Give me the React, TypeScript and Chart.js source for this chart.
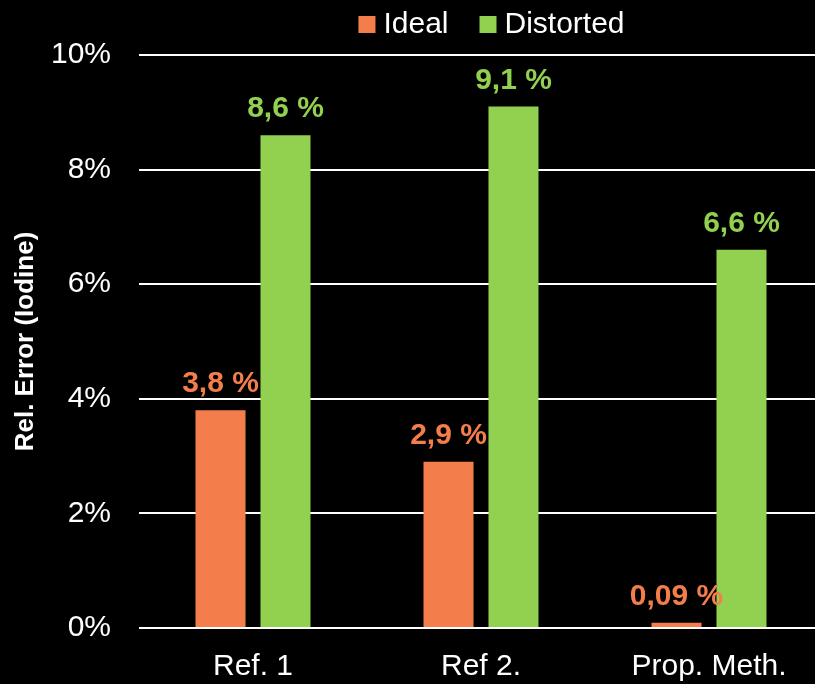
import React, { useEffect, useRef } from "react";
import { Chart, registerables } from "chart.js";

Chart.register(...registerables);

const categories = ["Ref. 1", "Ref 2.", "Prop. Meth."];
const idealValues = [3.8, 2.9, 0.09];
const distortedValues = [8.6, 9.1, 6.6];
const yTicks = [0, 2, 4, 6, 8, 10];
const seriesNames = ["Ideal", "Distorted"];

const ORANGE = "#F47E4B";
const GREEN = "#92D050";
const FONT = '"Liberation Sans", Arial, sans-serif';

const fmt = (v: number) => String(v).replace(".", ",") + " %";

const labelsPlugin = {
  id: "valueLabels",
  afterDatasetsDraw(chart: any) {
    const ctx = chart.ctx;
    ctx.save();
    ctx.font = `bold 30px ${FONT}`;
    ctx.textAlign = "center";
    ctx.textBaseline = "alphabetic";
    chart.data.datasets.forEach((ds: any, i: number) => {
      const meta = chart.getDatasetMeta(i);
      meta.data.forEach((el: any, j: number) => {
        ctx.fillStyle = ds.backgroundColor;
        ctx.fillText(fmt(ds.data[j]), el.x, el.y - 18);
      });
    });
    ctx.restore();
  },
};

const legendPlugin = {
  id: "customLegend",
  afterDraw(chart: any) {
    const ctx = chart.ctx;
    ctx.save();
    ctx.font = `30px ${FONT}`;
    ctx.textBaseline = "alphabetic";
    ctx.textAlign = "left";
    const box = 17;
    const gap = 8;
    const itemGap = 31;
    const items = chart.data.datasets.map((ds: any) => ({
      label: ds.label,
      color: ds.backgroundColor,
      w: box + gap + ctx.measureText(ds.label).width,
    }));
    const total = items.reduce((s: number, it: any) => s + it.w, 0) + itemGap * (items.length - 1);
    let x = 491.5 - total / 2;
    const baseline = 33;
    items.forEach((it: any) => {
      ctx.fillStyle = it.color;
      ctx.fillRect(x, 16, box, box);
      ctx.fillStyle = "#FFFFFF";
      ctx.fillText(it.label, x + box + gap, baseline);
      x += it.w + itemGap;
    });
    ctx.restore();
  },
};

export default function App() {
  const ref = useRef<HTMLCanvasElement | null>(null);

  useEffect(() => {
    document.body.style.margin = "0";
    document.body.style.background = "#000";
    const canvas = ref.current!;
    const chart = new Chart(canvas, {
      type: "bar",
      data: {
        labels: categories,
        datasets: [
          {
            label: seriesNames[0],
            data: idealValues,
            backgroundColor: ORANGE,
            categoryPercentage: 0.57,
            barPercentage: 0.77,
          },
          {
            label: seriesNames[1],
            data: distortedValues,
            backgroundColor: GREEN,
            categoryPercentage: 0.57,
            barPercentage: 0.77,
          },
        ],
      },
      options: {
        responsive: false,
        animation: false,
        devicePixelRatio: 1,
        layout: { padding: { top: 55, left: 0, right: 0, bottom: 0 } },
        plugins: {
          legend: { display: false },
          tooltip: { enabled: false },
        },
        scales: {
          x: {
            grid: { display: false },
            border: { display: false },
            ticks: {
              color: "#FFFFFF",
              font: { family: FONT, size: 30 },
              padding: 13,
              maxRotation: 0,
            },
            afterFit: (s: any) => {
              s.height = 56;
            },
          },
          y: {
            min: 0,
            max: 10,
            afterBuildTicks: (s: any) => {
              s.ticks = yTicks.map((v) => ({ value: v }));
            },
            grid: { color: "#FFFFFF", lineWidth: 2, drawTicks: false },
            border: { display: false },
            ticks: {
              color: "#FFFFFF",
              font: { family: FONT, size: 30 },
              padding: 28,
              callback: (v: any) => v + "%",
            },
            title: {
              display: true,
              text: "Rel. Error (Iodine)",
              color: "#FFFFFF",
              font: { family: FONT, size: 26, weight: "bold" },
              padding: { top: 10, bottom: 0 },
            },
            afterFit: (s: any) => {
              s.width = 139;
            },
          },
        },
      },
      plugins: [labelsPlugin, legendPlugin],
    } as any);
    return () => chart.destroy();
  }, []);

  return (
    <div
      style={{
        position: "absolute",
        left: 0,
        top: 0,
        width: 815,
        height: 684,
        overflow: "hidden",
        background: "#000",
      }}
    >
      <canvas ref={ref} width={823} height={684} style={{ display: "block" }} />
    </div>
  );
}
